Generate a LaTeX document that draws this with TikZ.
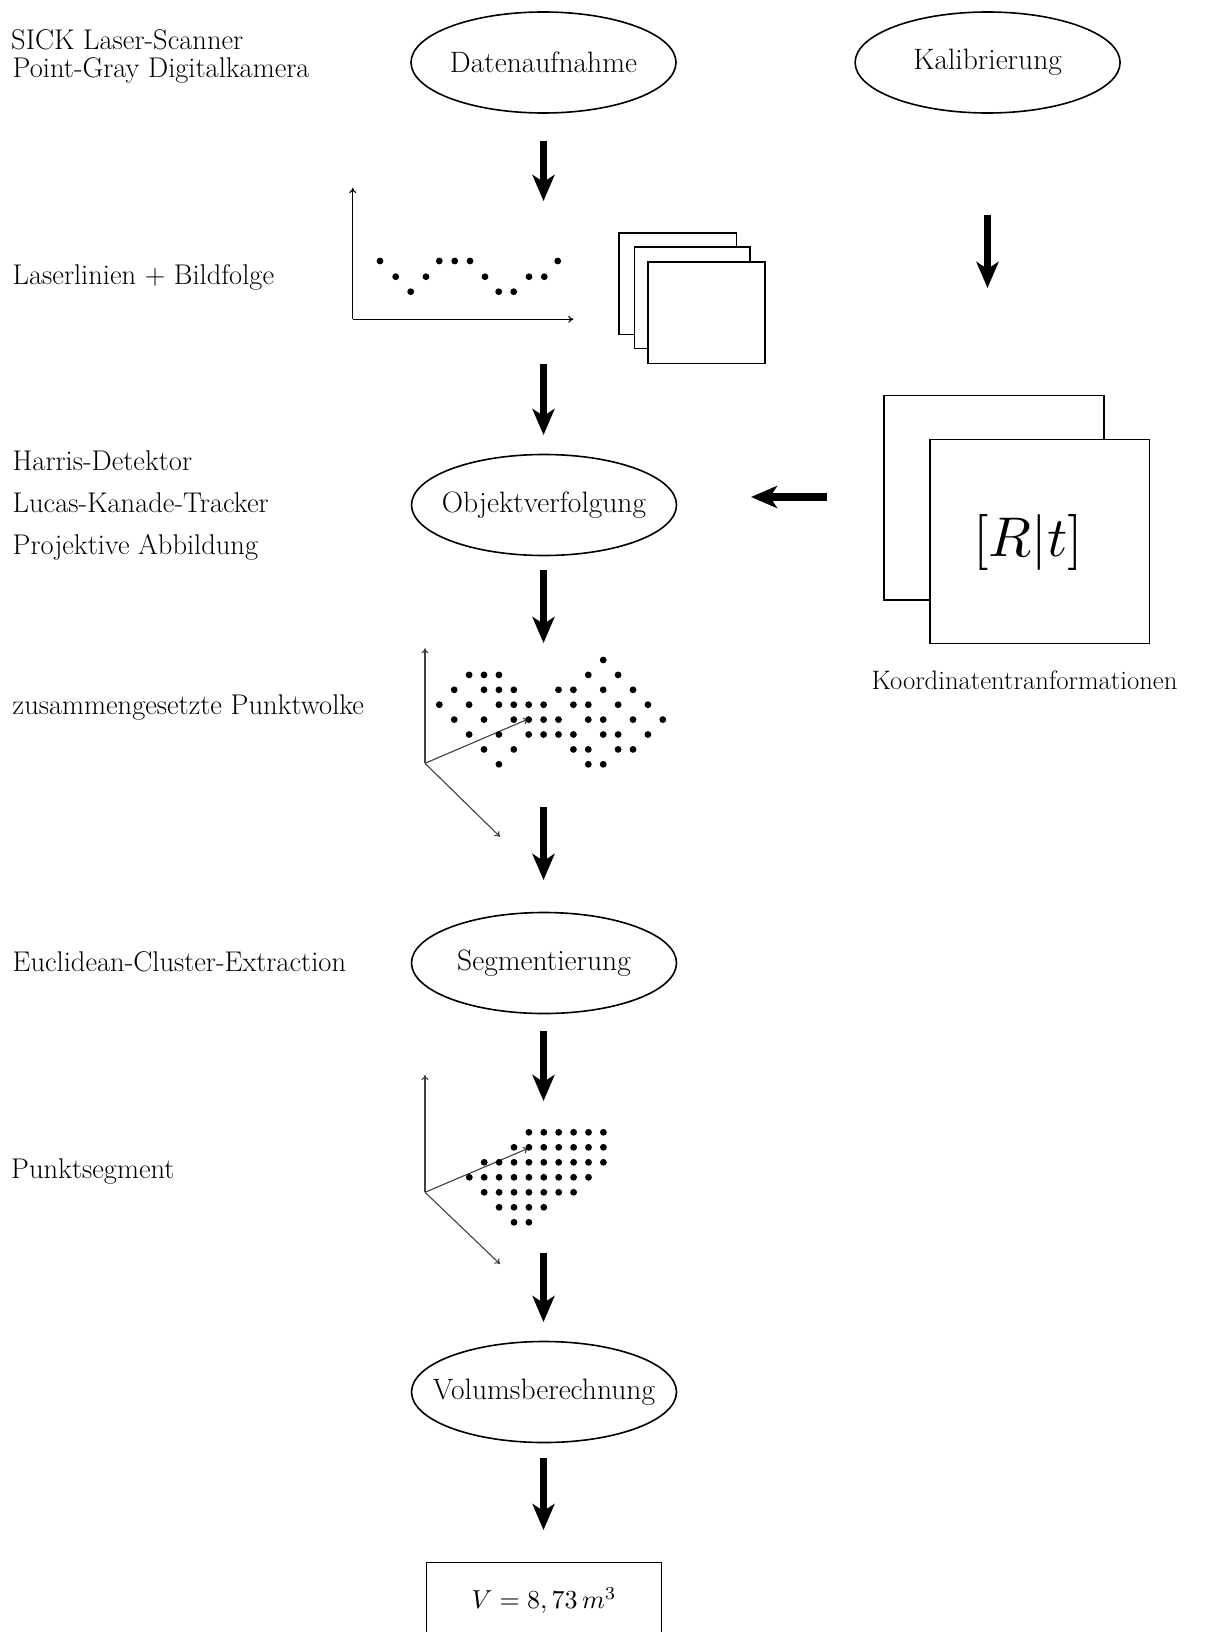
\documentclass[tikz,border=0pt]{standalone}
\usepackage{graphicx}
\usetikzlibrary{shapes.geometric,arrows.meta}
\newcommand{\zw}[1]{\makebox[0pt]{#1}}
\begin{document}
\begin{tikzpicture}[x=1pt,y=-1pt,
  lbl/.style={anchor=mid west,inner sep=0pt,font=\fontsize{28.5}{33}\selectfont},
  proc/.style={draw,ellipse,line width=1.6pt,minimum width=265pt,minimum height=101pt,inner sep=0pt,font=\fontsize{29.5}{34}\selectfont},
  bigarrow/.style={line width=7.5pt,-{Stealth[length=26pt,width=22pt,inset=7pt]}},
  ax/.style={line width=1.1pt,-{To[length=5pt,width=7pt]}},
  ax3/.style={line width=1.1pt,black!75,-{To[length=5pt,width=7pt]}},
  sheet/.style={draw,fill=white,line width=1.6pt},
  dotc/.style={fill=black}]
\useasboundingbox[fill=white] (0,0) rectangle (1214,1632);

% left labels
\node[lbl] (l1) at (11,47) {SICK Laser-Scanner};
\node[lbl] (l2) at (12.5,75) {Point-Gray Digitalkamera};
\node[lbl] (l3) at (12.5,282) {Laserlinien + Bildfolge};
\node[lbl] (l4) at (12.5,468) {Harris-Detektor};
\node[lbl] (l5) at (12.5,510) {Lucas-Kanade-Tracker};
\node[lbl] (l6) at (12.5,552) {Projektive Abbildung};
\node[lbl] (l7) at (12.5,712) {zusammengesetzte Punktwolke};
\node[lbl] (l8) at (12.5,969) {Euclidean-Cluster-Extraction};
\node[lbl] (l9) at (11,1176) {Punktsegment};
\node[lbl,anchor=mid,font=\fontsize{26.7}{31}\selectfont] (l10) at (1024.5,687) {Koordinatentranformationen};

% process ellipses
\node[proc] (daten) at (543.5,62.5) {\zw{Datenaufnahme}};
\node[proc] (kalib) at (987.6,62.5) {\zw{Kalibrierung}};
\node[proc] (objekt) at (544,505) {\zw{Objektverfolgung}};
\node[proc] (segm) at (544,963) {\zw{Segmentierung}};
\node[proc] (volum) at (544,1392) {\zw{Volumsberechnung}};

% result box
\node[draw,line width=1.6pt,minimum width=235pt,minimum height=76pt,inner sep=0pt] (res) at (544,1600.5) {\scalebox{2.6}{$V = 8,73\,m^3$}};

% big arrows
\coordinate (a1s) at (543.5,141);  \coordinate (a1e) at (543.5,201);
\coordinate (a2s) at (543.5,364);  \coordinate (a2e) at (543.5,435);
\coordinate (a3s) at (543.5,570);  \coordinate (a3e) at (543.5,643);
\coordinate (a4s) at (543.5,807);  \coordinate (a4e) at (543.5,880);
\coordinate (a5s) at (543.5,1031); \coordinate (a5e) at (543.5,1101);
\coordinate (a6s) at (543.5,1253); \coordinate (a6e) at (543.5,1322);
\coordinate (a7s) at (543.5,1458); \coordinate (a7e) at (543.5,1530);
\coordinate (krs) at (987.5,215);  \coordinate (kre) at (987.5,288);
\coordinate (lfs) at (827,497);    \coordinate (lfe) at (751,497);
\foreach \s/\e in {a1s/a1e,a2s/a2e,a3s/a3e,a4s/a4e,a5s/a5e,a6s/a6e,a7s/a7e,krs/kre,lfs/lfe}
  \draw[bigarrow] (\s) -- (\e);

% 2D laser line plot
\coordinate (p0) at (352.7,319.3);
\coordinate (py) at (352.7,188);
\coordinate (px) at (573.3,319.3);
\draw[ax] (p0) -- (py);
\draw[ax] (p0) -- (px);
\foreach \x/\y in {380/261,395.7/276.7,410.7/291.7,426/276.7,439.3/261,454.7/261,470/261,485/276.7,498.7/291.7,513.7/291.7,529/276.7,544.3/276.7,557.7/261}
  \fill[dotc] (\x,\y) circle (3.4pt);

% image stack
\draw[sheet] (619,232.7) rectangle (736.3,334.3);
\draw[sheet] (634.3,246.7) rectangle (749.7,348.3);
\draw[sheet] (648,261.7) rectangle (764.7,363.3);

% [R|t] frames
\draw[sheet] (884,395.5) rectangle (1104,599.7);
\node[sheet,minimum width=219.7pt,minimum height=204pt,inner sep=0pt] (rt) at (1039.8,541.3) {};
\node[inner sep=0pt] (rtxt) at (1028,542) {\scalebox{5.6}{$[R|t]$}};

% 3D point cloud
\coordinate (c0) at (425,763.3);
\coordinate (cy) at (425,648.3);
\coordinate (cd) at (528.3,719);
\coordinate (cx) at (500,836.7);
\draw[ax3] (c0) -- (cy);
\draw[ax3] (c0) -- (cd);
\draw[ax3] (c0) -- (cx);
\foreach \r/\cols in {0/{11},1/{2,3,4,10,12},2/{1,3,4,5,8,9,11,13},3/{0,2,4,5,6,7,9,10,12,14},4/{1,3,5,6,7,8,10,11,13,15},5/{2,4,6,7,8,9,11,12,14},6/{3,5,9,10,12,13},7/{4,10,11}}
  \foreach \c in \cols
    \fill[dotc] ({439.3+14.9*\c},{660+14.9*\r}) circle (3.4pt);

% point segment
\coordinate (s0) at (425,1192.3);
\coordinate (sy) at (425,1075);
\coordinate (sd) at (528.3,1148.3);
\coordinate (sx) at (500,1264);
\draw[ax3] (s0) -- (sy);
\draw[ax3] (s0) -- (sd);
\draw[ax3] (s0) -- (sx);
\foreach \r/\cols in {0/{4,5,6,7,8,9},1/{3,4,5,6,7,8,9},2/{1,2,3,4,5,6,7,8,9},3/{0,1,2,3,4,5,6,7,8},4/{1,2,3,4,5,6,7},5/{2,3,4,5},6/{3,4}}
  \foreach \c in \cols
    \fill[dotc] ({469.3+14.9*\c},{1132.3+15*\r}) circle (3.4pt);
\end{tikzpicture}
\end{document}
